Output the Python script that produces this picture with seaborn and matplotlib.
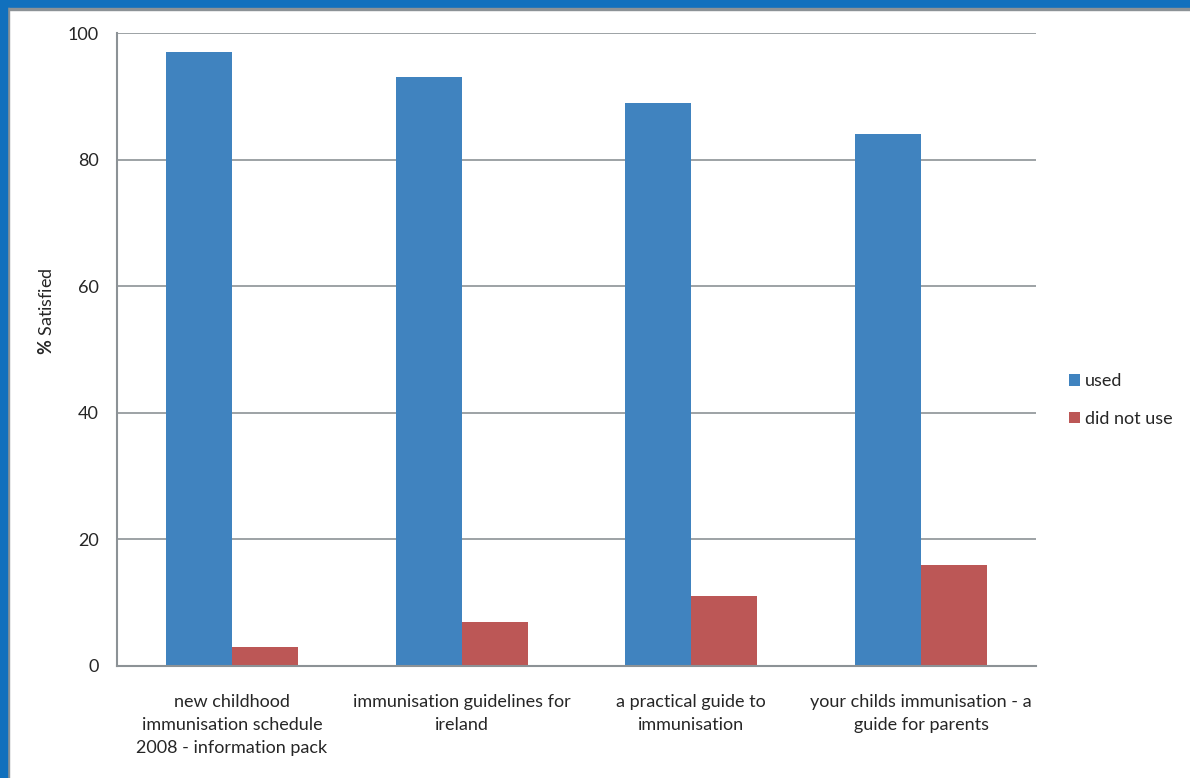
import matplotlib
matplotlib.use('Agg')
import pandas as pd
import matplotlib.pyplot as plt
import seaborn as sns
from matplotlib.patches import Rectangle

# data
categories = ['new childhood\nimmunisation schedule\n2008 - information pack',
              'immunisation guidelines for\nireland',
              'a practical guide to\nimmunisation',
              'your childs immunisation - a\nguide for parents']
used = [97, 93, 89, 84]
did_not_use = [3, 7, 11, 16]
series = ['used', 'did not use']
colors = ['#4083BF', '#BC5756']

df = pd.DataFrame({
    'category': categories * 2,
    'value': used + did_not_use,
    'series': [series[0]] * 4 + [series[1]] * 4,
})

sns.set_style('white')
plt.rcParams['font.family'] = ['Lato', 'DejaVu Sans']
plt.rcParams['mathtext.fontset'] = 'custom'
plt.rcParams['mathtext.rm'] = 'Lato'
plt.rcParams['mathtext.bf'] = 'Lato:bold'

fig = plt.figure(figsize=(11.9, 7.78), dpi=100)
ax = fig.add_axes([117 / 1190, 1 - 666 / 778, 919 / 1190, 633 / 778])

sns.barplot(data=df, x='category', y='value', hue='series', palette=colors,
            width=0.575, saturation=1, linewidth=0, ax=ax, legend=True)

ax.set_ylim(0, 100)
ax.set_yticks([0, 20, 40, 60, 80, 100])
ax.yaxis.grid(True, color='#8C9296', linewidth=1.2)
ax.set_axisbelow(True)
ax.set_xlabel('')
ax.set_xticks(range(len(categories)), categories, linespacing=1.55)
ax.set_ylabel(r'$\mathbf{\%}$ Satisfied', fontsize=13)
ax.yaxis.set_label_coords(-62 / 919, 0.56)
ax.tick_params(axis='y', labelsize=13, length=5, color='#8C9296', direction='out', pad=8)
ax.tick_params(axis='x', labelsize=13, length=0, pad=20)
for s in ['top', 'right']:
    ax.spines[s].set_visible(False)
for s in ['left', 'bottom']:
    ax.spines[s].set_color('#8C9296')
    ax.spines[s].set_linewidth(1.5)

ax.legend(loc='center left', bbox_to_anchor=(1.018, 0.42), frameon=False,
          fontsize=13, handlelength=0.6, handleheight=0.6, handletextpad=0.3,
          labelspacing=1.2)

# blue frame top and left
fig.patches.append(Rectangle((0, 1 - 8 / 778), 1, 8 / 778, transform=fig.transFigure,
                             color='#1170BD', zorder=5))
fig.patches.append(Rectangle((0, 1 - 10 / 778), 1, 2 / 778, transform=fig.transFigure,
                             color='#8C9296', zorder=5))
fig.patches.append(Rectangle((0, 0), 7 / 1190, 1, transform=fig.transFigure,
                             color='#1170BD', zorder=6))
fig.patches.append(Rectangle((7 / 1190, 0), 2 / 1190, 1 - 8 / 778, transform=fig.transFigure,
                             color='#8C9296', zorder=5))

fig.savefig('out.png', dpi=100)
